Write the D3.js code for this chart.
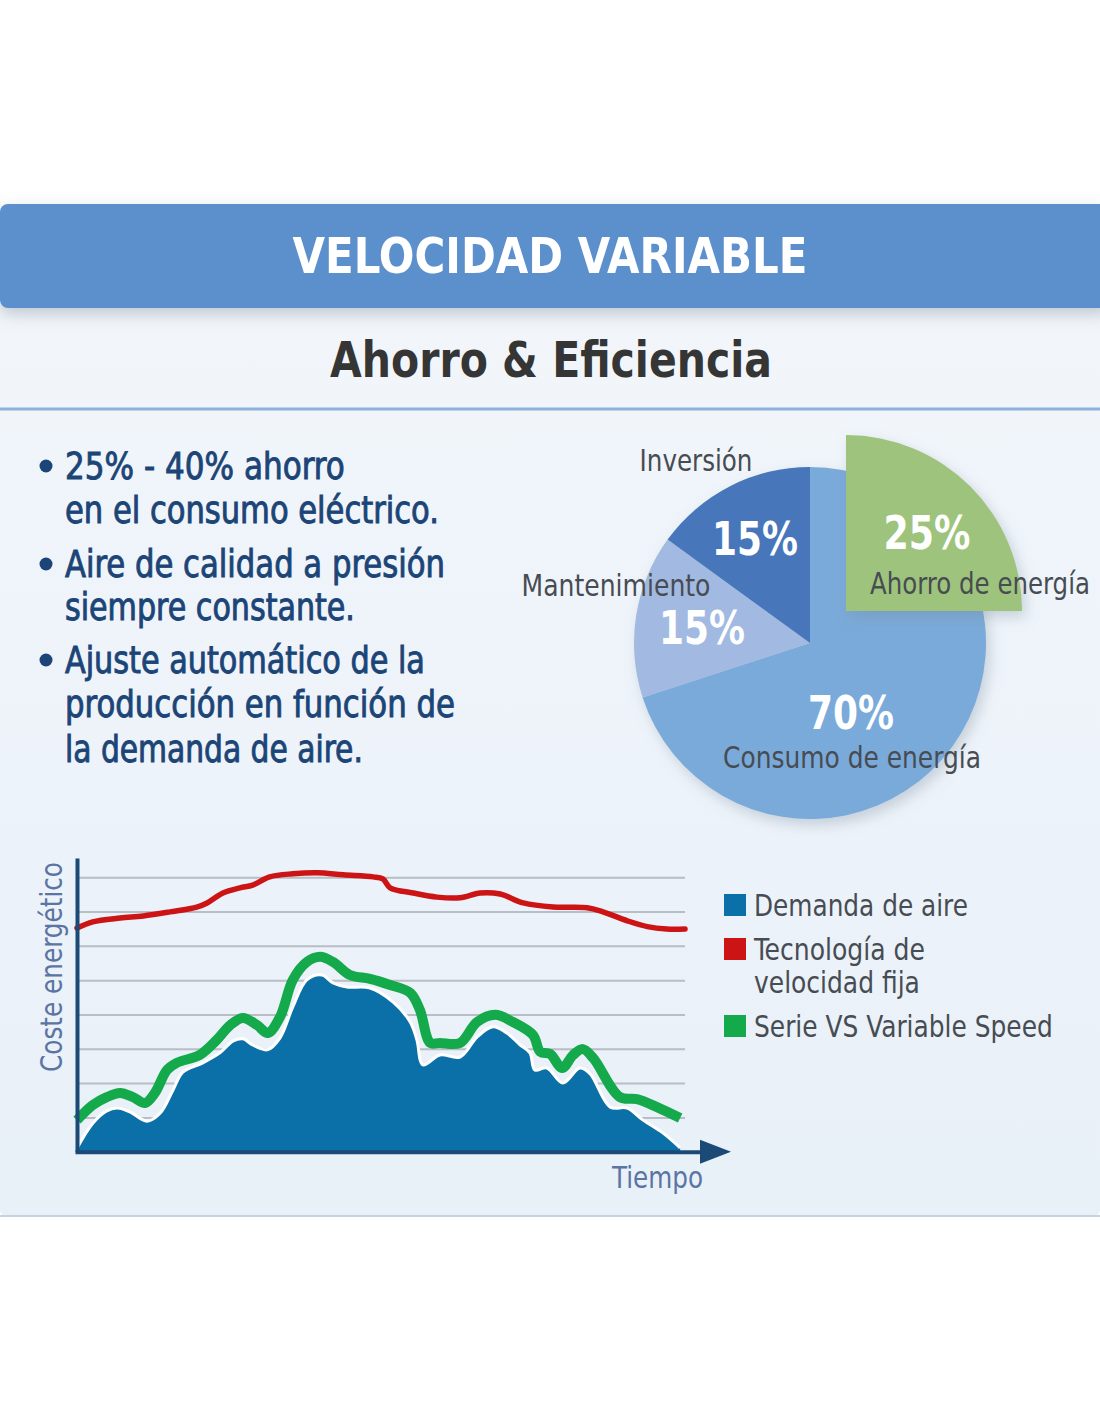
<!DOCTYPE html>
<html>
<head>
<meta charset="utf-8">
<script src="https://cdn.jsdelivr.net/npm/d3@7"></script>
<style>
  html, body { margin: 0; padding: 0; background: #ffffff; }
  svg { display: block; }
</style>
</head>
<body>
<div id="chart"></div>
<script>
// bullet lines on the left
var bulletLines = [
    ["•", "25% - 40% ahorro"],
    ["", "en el consumo eléctrico."],
    ["•", "Aire de calidad a presión"],
    ["", "siempre constante."],
    ["•", "Ajuste automático de la"],
    ["", "producción en función de"],
    ["", "la demanda de aire."]
];

// pie slices (percent)
var pieLabels = ["Consumo de energía", "Mantenimiento", "Inversión"];
var pieValues = [70, 15, 15];
var pieColors = ["#7aaad9", "#a2b9e1", "#4676bb"];
var savingLabel = "Ahorro de energía";
var savingValue = 25;

// chart series: [time, energy cost]
var demanda = [[0,0.1],[2.6,0.83],[4.9,1.19],[6.6,1.27],[8.7,1.16],[11.5,0.89],[13.7,1.13],
    [15.8,1.8],[17.4,2.32],[20.7,2.59],[23.5,2.88],[25.7,3.23],[27.3,3.29],[28.9,3.11],
    [31.3,2.97],[33.4,3.32],[35.5,4.22],[37.8,5.01],[40.3,5.15],[42.1,4.92],[44.4,4.8],
    [48.2,4.77],[52,4.36],[54.8,3.78],[55.9,3.26],[56.9,2.53],[59.7,2.82],[63,2.76],
    [65.8,3.34],[68.4,3.64],[70.7,3.46],[72.9,3.11],[74.5,2.88],[75.3,2.38],[77.3,2.44],
    [79.9,2.0],[82.7,2.44],[84.4,2.27],[87.7,1.3],[90.5,1.27],[93.1,0.92],[96.4,0.54],[99.2,0.11]];

var velocidadFija = [[0,6.52],[2.6,6.7],[7.1,6.81],[10.9,6.87],[15.3,6.99],[19.7,7.13],[21.4,7.25],
    [24,7.54],[26.8,7.69],[28.9,7.77],[31.7,8.01],[35.5,8.1],[39.5,8.13],[43.8,8.07],
    [48.7,8.01],[50.3,7.95],[51.5,7.69],[55.3,7.54],[59.2,7.42],[63,7.4],[66.3,7.54],
    [69.6,7.51],[73.4,7.25],[78.3,7.13],[83.9,7.11],[86.5,6.99],[90.5,6.73],[93.8,6.56],
    [97,6.49],[100,6.49]];

var serieVS = [[0,0.92],[2.6,1.36],[4.9,1.59],[7.1,1.71],[9.2,1.59],[11.2,1.42],[12.8,1.71],
    [14.8,2.38],[16.4,2.59],[20.2,2.82],[23,3.26],[25.2,3.69],[27.3,3.9],[29.6,3.69],
    [31.4,3.46],[33.4,3.93],[35.5,5.01],[37.8,5.53],[40,5.68],[42.1,5.53],[44.9,5.15],
    [48.2,5.04],[51.5,4.86],[54.8,4.63],[56.4,4.13],[58.1,3.17],[59.7,3.17],[63,3.17],
    [65.8,3.78],[68.8,3.99],[71.7,3.78],[75,3.4],[76.2,2.91],[77.8,2.85],[79.8,2.44],
    [81.6,2.82],[83.2,2.99],[84.9,2.73],[89.3,1.59],[92.1,1.53],[95.4,1.3],[99.2,0.98]];

var gridValues = [1, 2, 3, 4, 5, 6, 7, 8];
var legendLabels = [["Demanda de aire"], ["Tecnología de", "velocidad fija"], ["Serie VS Variable Speed"]];
var legendColors = ["#0a70a7", "#cc1414", "#14a94b"];

var W = 1100, H = 1422;
var FONT = "'Liberation Sans Narrow', 'DejaVu Sans Condensed', 'Roboto', sans-serif";

var svg = d3.select("#chart").append("svg")
    .attr("width", W)
    .attr("height", H);

var defs = svg.append("defs");

var bg = defs.append("linearGradient").attr("id", "panelBg")
    .attr("x1", 0).attr("y1", 0).attr("x2", 0).attr("y2", 1);
bg.append("stop").attr("offset", "0%").attr("stop-color", "#f2f6fb");
bg.append("stop").attr("offset", "100%").attr("stop-color", "#e8f0f8");

var shadow = defs.append("filter").attr("id", "shadow")
    .attr("x", "-20%").attr("y", "-20%").attr("width", "150%").attr("height", "150%");
shadow.append("feDropShadow")
    .attr("dx", 4).attr("dy", 6).attr("stdDeviation", 7)
    .attr("flood-color", "#7a8a9c").attr("flood-opacity", 0.35);

var headShadow = defs.append("filter").attr("id", "headShadow")
    .attr("x", "-5%").attr("y", "-20%").attr("width", "110%").attr("height", "160%");
headShadow.append("feDropShadow")
    .attr("dx", 0).attr("dy", 6).attr("stdDeviation", 8)
    .attr("flood-color", "#8a98a8").attr("flood-opacity", 0.5);

// helper: text squeezed horizontally to a given width
function addText(g, str, x, y, size, weight, fill, anchor, len, rotate) {
    var holder = g.append("g");
    var t = holder.append("text")
        .attr("x", 0)
        .attr("y", 0)
        .style("font-family", FONT)
        .style("font-size", size + "px")
        .style("font-weight", weight)
        .style("fill", fill)
        .style("text-anchor", anchor || "start")
        .text(str);
    var natural = t.node().getComputedTextLength();
    var sx = len && natural ? len / natural : 1;
    holder.attr("transform", "translate(" + x + "," + y + ")" +
        (rotate ? " rotate(" + rotate + ")" : "") + " scale(" + sx + ",1)");
    return t;
}

// panel and header
svg.append("rect")
    .attr("x", 0).attr("y", 300)
    .attr("width", W).attr("height", 916)
    .attr("rx", 6)
    .style("fill", "url(#panelBg)");
svg.append("line")
    .attr("x1", 0).attr("x2", W).attr("y1", 1216).attr("y2", 1216)
    .style("stroke", "#c3d3e2").style("stroke-width", 2);

svg.append("rect")
    .attr("x", 0).attr("y", 204)
    .attr("width", W + 10).attr("height", 104)
    .attr("rx", 8)
    .style("fill", "#5b90cc")
    .attr("filter", "url(#headShadow)");

addText(svg, "VELOCIDAD VARIABLE", 550, 273, 50, "bold", "#ffffff", "middle", 515);
addText(svg, "Ahorro & Eficiencia", 551, 377, 50, "bold", "#353535", "middle", 442);

svg.append("line")
    .attr("x1", 0).attr("x2", W).attr("y1", 409).attr("y2", 409)
    .style("stroke", "#8db0dc").style("stroke-width", 3);

// bullets
var bulletG = svg.append("g");
var bulletBase = [479, 523, 577, 620, 673, 717, 762];
var bulletLen = [280, 374, 380, 290, 360, 390, 298];
bulletLines.forEach(function(d, i) {
    if (d[0]) {
        bulletG.append("circle")
            .attr("cx", 46).attr("cy", bulletBase[i] - 13).attr("r", 6.5)
            .style("fill", "#1c4577");
    }
    addText(bulletG, d[1], 65, bulletBase[i], 37, "normal", "#1c4577", "start", bulletLen[i])
        .style("stroke", "#1c4577")
        .style("stroke-width", 0.9);
});

// pie
var cx = 810, cy = 643, r = 176;
var pie = d3.pie().sort(null).value(function(d) { return d; });
var arc = d3.arc().innerRadius(0).outerRadius(r);
var pieG = svg.append("g").attr("transform", "translate(" + cx + "," + cy + ")");

pieG.append("g").attr("filter", "url(#shadow)")
    .selectAll("path")
    .data(pie(pieValues))
    .enter().append("path")
    .attr("d", arc)
    .style("fill", function(d, i) { return pieColors[i]; });

// exploded saving slice over the consumption slice
var savingArc = { startAngle: 0, endAngle: savingValue / 100 * 2 * Math.PI };
pieG.append("path")
    .attr("transform", "translate(36,-32)")
    .attr("d", arc(savingArc))
    .attr("filter", "url(#shadow)")
    .style("fill", "#9dc37b");

var labelColor = "#474c52";
addText(svg, pieLabels[2], 696, 471, 31, "normal", labelColor, "middle", 113);
addText(svg, pieValues[2] + "%", 755, 555, 46, "bold", "#ffffff", "middle", 86);
addText(svg, savingValue + "%", 927, 549, 46, "bold", "#ffffff", "middle", 87);
addText(svg, savingLabel, 980, 594, 31, "normal", labelColor, "middle", 220);
addText(svg, pieLabels[1], 616, 596, 31, "normal", labelColor, "middle", 189);
addText(svg, pieValues[1] + "%", 702, 644, 46, "bold", "#ffffff", "middle", 86);
addText(svg, pieValues[0] + "%", 851, 729, 46, "bold", "#ffffff", "middle", 86);
addText(svg, pieLabels[0], 852, 768, 31, "normal", labelColor, "middle", 258);

// line chart
var x = d3.scaleLinear().domain([0, 100]).range([77, 685]);
var y = d3.scaleLinear().domain([0, 8.56]).range([1151.7, 858]);

var chartG = svg.append("g");

chartG.append("g")
    .attr("transform", "translate(" + x(0) + ",0)")
    .call(d3.axisLeft(y).tickValues(gridValues).tickSize(-(x(100) - x(0))).tickFormat(""))
    .call(function(g) {
        g.select(".domain").remove();
        g.selectAll(".tick line").style("stroke", "#b9bdc5").style("stroke-width", 2);
    });

var curve = d3.curveCatmullRom.alpha(0.5);

var area = d3.area()
    .x(function(d) { return x(d[0]); })
    .y0(y(0))
    .y1(function(d) { return y(d[1]); })
    .curve(curve);

var line = d3.line()
    .x(function(d) { return x(d[0]); })
    .y(function(d) { return y(d[1]); })
    .curve(curve);

chartG.append("path")
    .datum(demanda)
    .attr("d", area)
    .style("fill", legendColors[0]);

chartG.append("path")
    .datum(demanda)
    .attr("d", line)
    .style("fill", "none")
    .style("stroke", "#ffffff")
    .style("stroke-width", 3);

chartG.append("path")
    .datum(velocidadFija)
    .attr("d", line)
    .style("fill", "none")
    .style("stroke", legendColors[1])
    .style("stroke-width", 5.5)
    .style("stroke-linecap", "round");

chartG.append("path")
    .datum(serieVS)
    .attr("d", line)
    .style("fill", "none")
    .style("stroke", legendColors[2])
    .style("stroke-width", 10)
    .style("stroke-linejoin", "round");

// axes
var axisColor = "#1b4a77";
chartG.append("g")
    .attr("transform", "translate(" + x(0) + ",0)")
    .call(d3.axisLeft(y).tickValues([]).tickSizeOuter(0))
    .call(function(g) {
        g.select(".domain").style("stroke", axisColor).style("stroke-width", 4);
    });

var xAxisScale = d3.scaleLinear().domain([0, 100]).range([75, 706]);
chartG.append("g")
    .attr("transform", "translate(0," + y(0) + ")")
    .call(d3.axisBottom(xAxisScale).tickValues([]).tickSizeOuter(0))
    .call(function(g) {
        g.select(".domain").style("stroke", axisColor).style("stroke-width", 4);
    });

chartG.append("path")
    .attr("d", d3.line()([[700, y(0) - 12], [731, y(0)], [700, y(0) + 12]]))
    .style("fill", axisColor);

var axisLabelColor = "#5b74a3";
addText(chartG, "Tiempo", 703, 1188, 31, "normal", axisLabelColor, "end", 91);
addText(chartG, "Coste energético", 62, 967, 31, "normal", axisLabelColor, "middle", 210, -90);

// legend
var legendG = svg.append("g");
var legendBase = [[916], [960, 993], [1037]];
var legendLen = [[214], [171, 166], [299]];
legendLabels.forEach(function(lines, i) {
    legendG.append("rect")
        .attr("x", 724).attr("y", legendBase[i][0] - 22)
        .attr("width", 22).attr("height", 22)
        .style("fill", legendColors[i]);
    lines.forEach(function(s, j) {
        addText(legendG, s, 754, legendBase[i][j], 31, "normal", "#474c52", "start", legendLen[i][j]);
    });
});
</script>
</body>
</html>
